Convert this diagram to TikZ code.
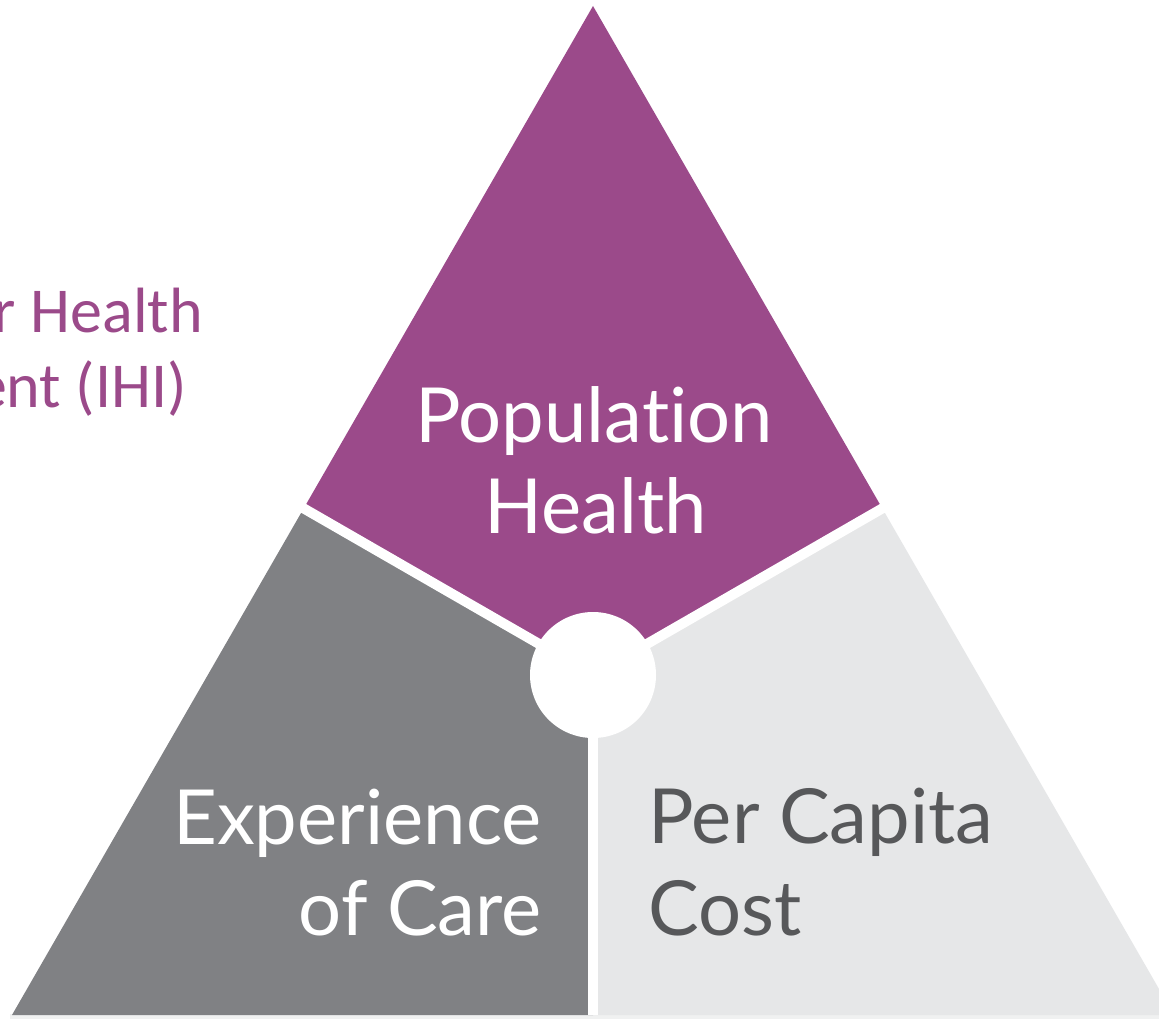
\documentclass[tikz,border=0pt]{standalone}
\usepackage{fontspec}
\usetikzlibrary{calc}
\newfontfamily\ihifont{Carlito}
\newfontfamily\trifont[Ligatures=NoCommon]{Lato}
\definecolor{ihipurple}{HTML}{9B4A8A}
\definecolor{darkgrey}{HTML}{808184}
\definecolor{lightgrey}{HTML}{E6E7E8}
\definecolor{textgrey}{HTML}{57585A}
\tikzset{
  sep/.style={white, line width=10pt},
  big/.style={font=\trifont\fontsize{76}{76}\selectfont, inner sep=0pt},
  side/.style={font=\ihifont\fontsize{64}{64}\selectfont, text=ihipurple, inner sep=0pt}
}
\begin{document}
\begin{tikzpicture}[x=1pt,y=-1pt]
\clip (0,0) rectangle (1159,1019);
\fill[white] (0,0) rectangle (1159,1019);
\coordinate (A) at (593,6);
\coordinate (B) at (12,1015);
\coordinate (C) at (1174,1015);
\coordinate (O) at (593,675);
\coordinate (L) at ($(A)!(O)!(B)$);
\coordinate (R) at ($(A)!(O)!(C)$);
\coordinate (D) at ($(B)!(O)!(C)$);
% faint base strip
\fill[lightgrey!60] (10,1014) rectangle (1159,1019);
% segments
\fill[ihipurple] (A) -- (R) -- (O) -- (L) -- cycle;
\fill[darkgrey] (L) -- (O) -- (D) -- (B) -- cycle;
\fill[lightgrey] (R) -- (C) -- (D) -- (O) -- cycle;
% separators
\draw[sep] (O) -- ($(O)!1.06!(L)$);
\draw[sep] (O) -- ($(O)!1.06!(R)$);
\draw[sep] (O) -- (D);
\fill[white] (O) circle (63);
% labels
\node[big, text=white, anchor=base] (pop) at (594,442) {Population};
\node[big, text=white, anchor=base] (hea) at (596,533) {Health};
\node[big, text=white, anchor=base east] (exp) at (542,844) {Experience};
\node[big, text=white, anchor=base east] (ofc) at (542,935) {of Care};
\node[big, text=textgrey, anchor=base west] (per) at (648,843) {Per Capita};
\node[big, text=textgrey, anchor=base west] (cos) at (648,935) {Cost};
\node[side, anchor=base east] (ihi1) at (203,332) {r Health};
\node[side, anchor=base east] (ihi2) at (187,407) {ent (IHI)};
\end{tikzpicture}
\end{document}
